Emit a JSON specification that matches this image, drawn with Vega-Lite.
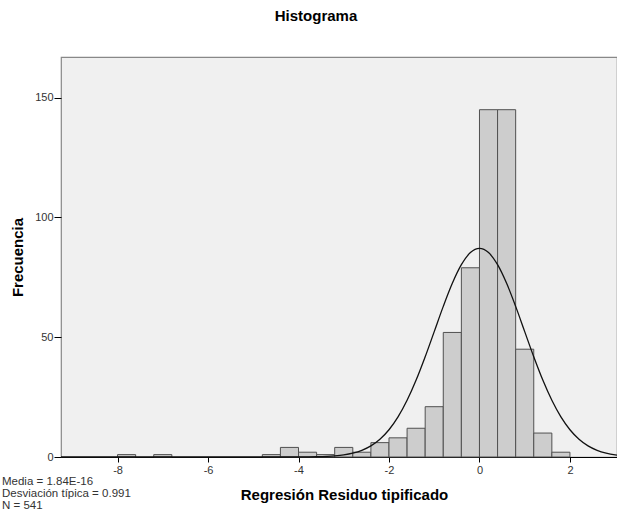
{
  "$schema": "https://vega.github.io/schema/vega-lite/v6.json",
  "autosize": "none",
  "padding": {"left": 61, "top": 57, "right": 0, "bottom": 61},
  "width": 556,
  "height": 400,
  "background": "#ffffff",
  "title": {"text": "Histograma", "fontSize": 15, "fontWeight": "bold", "font": "Liberation Sans", "color": "#000000", "anchor": "middle", "dx": -23, "offset": 33},
  "config": {
    "font": "Liberation Sans",
    "view": {"fill": "#F0F0F0", "stroke": "#888888", "strokeWidth": 1.2}
  },
  "datasets": {
    "bins": [
      {"bin_start": -8.0, "bin_end": -7.6, "count": 1},
      {"bin_start": -7.2, "bin_end": -6.8, "count": 1},
      {"bin_start": -4.8, "bin_end": -4.4, "count": 1},
      {"bin_start": -4.4, "bin_end": -4.0, "count": 4},
      {"bin_start": -4.0, "bin_end": -3.6, "count": 2},
      {"bin_start": -3.6, "bin_end": -3.2, "count": 1},
      {"bin_start": -3.2, "bin_end": -2.8, "count": 4},
      {"bin_start": -2.8, "bin_end": -2.4, "count": 2},
      {"bin_start": -2.4, "bin_end": -2.0, "count": 6},
      {"bin_start": -2.0, "bin_end": -1.6, "count": 8},
      {"bin_start": -1.6, "bin_end": -1.2, "count": 12},
      {"bin_start": -1.2, "bin_end": -0.8, "count": 21},
      {"bin_start": -0.8, "bin_end": -0.4, "count": 52},
      {"bin_start": -0.4, "bin_end": 0.0, "count": 79},
      {"bin_start": 0.0, "bin_end": 0.4, "count": 145},
      {"bin_start": 0.4, "bin_end": 0.8, "count": 145},
      {"bin_start": 0.8, "bin_end": 1.2, "count": 45},
      {"bin_start": 1.2, "bin_end": 1.6, "count": 10},
      {"bin_start": 1.6, "bin_end": 2.0, "count": 2}
    ],
    "curve": [
      {"x": -9.25, "y": 0},
      {"x": -5.0, "y": 0.0003},
      {"x": -4.4, "y": 0.0045},
      {"x": -4.0, "y": 0.025},
      {"x": -3.6, "y": 0.12},
      {"x": -3.2, "y": 0.47},
      {"x": -3.0, "y": 0.89},
      {"x": -2.8, "y": 1.61},
      {"x": -2.6, "y": 2.79},
      {"x": -2.4, "y": 4.64},
      {"x": -2.2, "y": 7.41},
      {"x": -2.0, "y": 11.37},
      {"x": -1.8, "y": 16.73},
      {"x": -1.6, "y": 23.66},
      {"x": -1.4, "y": 32.1},
      {"x": -1.2, "y": 41.84},
      {"x": -1.0, "y": 52.35},
      {"x": -0.8, "y": 62.88},
      {"x": -0.6, "y": 72.51},
      {"x": -0.4, "y": 80.29},
      {"x": -0.2, "y": 85.34},
      {"x": 0.0, "y": 87.1},
      {"x": 0.2, "y": 85.34},
      {"x": 0.4, "y": 80.29},
      {"x": 0.6, "y": 72.51},
      {"x": 0.8, "y": 62.88},
      {"x": 1.0, "y": 52.35},
      {"x": 1.2, "y": 41.84},
      {"x": 1.4, "y": 32.1},
      {"x": 1.6, "y": 23.66},
      {"x": 1.8, "y": 16.73},
      {"x": 2.0, "y": 11.37},
      {"x": 2.2, "y": 7.41},
      {"x": 2.4, "y": 4.64},
      {"x": 2.6, "y": 2.79},
      {"x": 2.8, "y": 1.61},
      {"x": 3.0, "y": 0.89},
      {"x": 3.04, "y": 0.79}
    ],
    "stats": [
      {"x": -9.25, "y": 0, "label": "Media = 1.84E-16\nDesviación típica = 0.991\nN = 541"}
    ]
  },
  "layer": [
    {
      "data": {"name": "bins"},
      "mark": {"type": "rect", "fill": "#CDCDCD", "stroke": "#505050", "strokeWidth": 1},
      "encoding": {
        "x": {
          "field": "bin_start", "type": "quantitative",
          "scale": {"domain": [-9.25, 3.04], "nice": false, "zero": false},
          "axis": {
            "values": [-8, -6, -4, -2, 0, 2],
            "labelExpr": "datum.value < 0 ? '-' + abs(datum.value) : '' + datum.value",
            "title": "Regresión Residuo tipificado",
            "titleFontSize": 15, "titleFontWeight": "bold", "titleColor": "#000000",
            "titlePadding": 12, "titleX": 283,
            "labelFontSize": 11, "labelColor": "#333333", "labelPadding": 2,
            "tickSize": 5, "tickColor": "#000000", "tickWidth": 1,
            "domainColor": "#000000", "domainWidth": 1, "grid": false
          }
        },
        "x2": {"field": "bin_end"},
        "y": {
          "field": "count", "type": "quantitative",
          "scale": {"domain": [0, 167], "nice": false},
          "axis": {
            "values": [0, 50, 100, 150],
            "title": "Frecuencia",
            "titleFontSize": 15, "titleFontWeight": "bold", "titleColor": "#000000",
            "titlePadding": 9,
            "labelFontSize": 11, "labelColor": "#333333", "labelPadding": 1,
            "tickSize": 7, "tickColor": "#000000", "tickWidth": 1,
            "domain": false, "grid": false
          }
        },
        "y2": {"datum": 0}
      }
    },
    {
      "data": {"name": "curve"},
      "mark": {"type": "line", "color": "#111111", "strokeWidth": 1.3, "interpolate": "monotone"},
      "encoding": {
        "x": {"field": "x", "type": "quantitative"},
        "y": {"field": "y", "type": "quantitative"}
      }
    },
    {
      "data": {"name": "stats"},
      "mark": {"type": "text", "align": "left", "baseline": "middle", "dx": -59, "dy": 25, "fontSize": 11.5, "font": "Liberation Sans", "lineBreak": "\n", "lineHeight": 11.8, "color": "#333333"},
      "encoding": {
        "x": {"field": "x", "type": "quantitative"},
        "y": {"field": "y", "type": "quantitative"},
        "text": {"field": "label"}
      }
    }
  ]
}
